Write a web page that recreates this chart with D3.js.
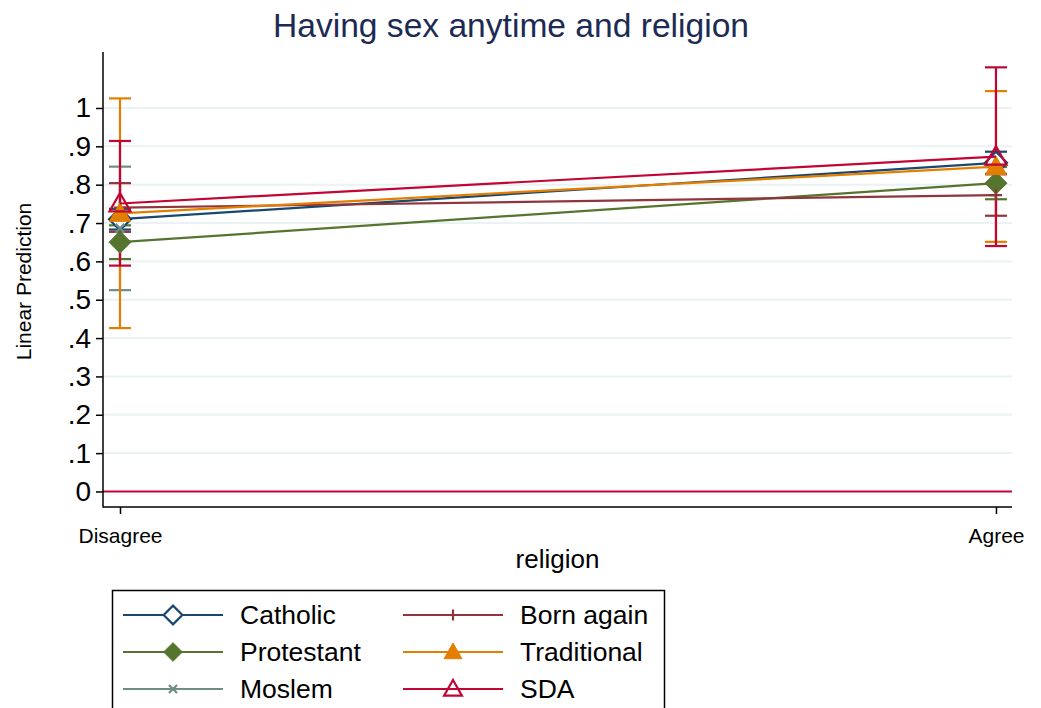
<!DOCTYPE html>
<html>
<head>
<meta charset="utf-8">
<script src="https://cdn.jsdelivr.net/npm/d3@7"></script>
<style>
  html, body { margin: 0; padding: 0; background: #ffffff; }
  svg { display: block; font-family: "Liberation Sans", Arial, Helvetica, sans-serif; }
</style>
</head>
<body>
<svg id="chart" width="1041" height="708"></svg>
<script>
// Margins-plot data: predicted values with 95% confidence limits
const categories = ["Disagree", "Agree"];
const seriesNames = ["Catholic", "Protestant", "Moslem", "Born again", "Traditional", "SDA"];
const seriesColors = ["#1a476f", "#55752f", "#6e8e84", "#90353b", "#e37e00", "#c10534"];
const seriesSymbols = ["diamondHollow", "diamond", "x", "plus", "triangle", "triangleHollow"];

const catholic    = [0.710, 0.857];
const protestant  = [0.650, 0.804];
const moslem      = [0.686, null];
const bornAgain   = [0.740, 0.773];
const traditional = [0.725, 0.847];
const sda         = [0.751, 0.873];

const catholicLo    = [0.683, 0.828];
const catholicHi    = [0.737, 0.886];
const protestantLo  = [0.606, 0.762];
const protestantHi  = [0.694, 0.846];
const moslemLo      = [0.525, null];
const moslemHi      = [0.847, null];
const bornAgainLo   = [0.677, 0.719];
const bornAgainHi   = [0.804, 0.827];
const traditionalLo = [0.426, 0.651];
const traditionalHi = [1.025, 1.044];
const sdaLo         = [0.589, 0.640];
const sdaHi         = [0.914, 1.106];

const yTickValues = [0, 0.1, 0.2, 0.3, 0.4, 0.5, 0.6, 0.7, 0.8, 0.9, 1];
const yTickLabels = ["0", ".1", ".2", ".3", ".4", ".5", ".6", ".7", ".8", ".9", "1"];

const titleText = "Having sex anytime and religion";
const yTitle = "Linear Prediction";
const xTitle = "religion";

const means = [catholic, protestant, moslem, bornAgain, traditional, sda];
const lows  = [catholicLo, protestantLo, moslemLo, bornAgainLo, traditionalLo, sdaLo];
const highs = [catholicHi, protestantHi, moslemHi, bornAgainHi, traditionalHi, sdaHi];

const series = seriesNames.map((name, i) => ({
  name, color: seriesColors[i], symbol: seriesSymbols[i],
  points: categories.map((c, j) => ({ j, v: means[i][j], lo: lows[i][j], hi: highs[i][j] }))
    .filter(p => p.v !== null)
}));

const svg = d3.select("#chart");
const plot = { left: 103, right: 1012, top: 52, bottom: 507 };

const x = d3.scaleLinear().domain([-0.0194, 1.0183]).range([plot.left, plot.right]);
const y = d3.scaleLinear().domain([-0.0405, 1.146]).range([plot.bottom, plot.top]);

// Title
svg.append("text")
  .attr("x", 511).attr("y", 37)
  .attr("text-anchor", "middle")
  .attr("font-size", 33)
  .attr("textLength", 476).attr("lengthAdjust", "spacingAndGlyphs")
  .attr("fill", "#1c2b54")
  .text(titleText);

// Horizontal grid
svg.append("g").selectAll("line").data(yTickValues.filter(v => v !== 0)).join("line")
  .attr("x1", plot.left).attr("x2", plot.right)
  .attr("y1", d => y(d)).attr("y2", d => y(d))
  .attr("stroke", "#eaf2f3").attr("stroke-width", 2);

// Reference line at zero
svg.append("line")
  .attr("x1", plot.left).attr("x2", plot.right)
  .attr("y1", y(0)).attr("y2", y(0))
  .attr("stroke", "#c10534").attr("stroke-width", 2);

// Y axis
const yAxis = svg.append("g")
  .attr("transform", `translate(${plot.left},0)`)
  .call(d3.axisLeft(y).tickValues(yTickValues)
    .tickFormat((d, i) => yTickLabels[i]).tickSize(7).tickPadding(5).tickSizeOuter(0));
yAxis.select(".domain").remove();
yAxis.append("line").attr("x1", 0).attr("x2", 0).attr("y1", plot.top).attr("y2", plot.bottom + 0.5)
  .attr("stroke", "#000").attr("stroke-width", 1.5);
yAxis.selectAll(".tick line").attr("stroke", "#000").attr("stroke-width", 1.5);
yAxis.selectAll(".tick text").attr("font-size", 28).attr("fill", "#000")
  .attr("font-family", "Liberation Sans, Arial, sans-serif");

// X axis
const xAxis = svg.append("g")
  .attr("transform", `translate(0,${plot.bottom})`)
  .call(d3.axisBottom(x).tickValues([0, 1])
    .tickFormat((d, i) => categories[i]).tickSize(7).tickPadding(14).tickSizeOuter(0));
xAxis.select(".domain").remove();
xAxis.append("line").attr("x1", plot.left).attr("x2", plot.right).attr("y1", 0).attr("y2", 0)
  .attr("stroke", "#000").attr("stroke-width", 1.5);
xAxis.selectAll(".tick line").attr("stroke", "#000").attr("stroke-width", 1.5);
xAxis.selectAll(".tick text").attr("font-size", 21).attr("fill", "#000")
  .attr("font-family", "Liberation Sans, Arial, sans-serif");

// Axis titles
svg.append("text")
  .attr("transform", `translate(31,${(plot.top + plot.bottom) / 2 + 2}) rotate(-90)`)
  .attr("text-anchor", "middle").attr("font-size", 21).attr("fill", "#000")
  .text(yTitle);
svg.append("text")
  .attr("x", (plot.left + plot.right) / 2).attr("y", 568)
  .attr("text-anchor", "middle").attr("font-size", 26).attr("fill", "#000")
  .text(xTitle);

// Marker glyph drawing
function drawMarker(g, symbol, color, cx, cy, scale) {
  const s = scale || 1;
  if (symbol === "diamond" || symbol === "diamondHollow") {
    const r = 11 * s;
    g.append("path")
      .attr("d", `M${cx},${cy - r}L${cx + r},${cy}L${cx},${cy + r}L${cx - r},${cy}Z`)
      .attr("fill", symbol === "diamond" ? color : "#fff")
      .attr("stroke", color).attr("stroke-width", symbol === "diamond" ? 1 : 2.2);
  } else if (symbol === "triangle" || symbol === "triangleHollow") {
    const r = 10.5 * s;
    g.append("path")
      .attr("d", `M${cx},${cy - r}L${cx + r},${cy + r * 0.75}L${cx - r},${cy + r * 0.75}Z`)
      .attr("fill", symbol === "triangle" ? color : "none")
      .attr("stroke", color).attr("stroke-width", symbol === "triangle" ? 1 : 2.2);
  } else if (symbol === "x") {
    const r = 4.5 * s;
    g.append("path")
      .attr("d", `M${cx - r},${cy - r}L${cx + r},${cy + r}M${cx - r},${cy + r}L${cx + r},${cy - r}`)
      .attr("stroke", color).attr("stroke-width", 2.2).attr("fill", "none");
  } else if (symbol === "plus") {
    const r = 6 * s;
    g.append("path")
      .attr("d", `M${cx - r},${cy}L${cx + r},${cy}M${cx},${cy - r}L${cx},${cy + r}`)
      .attr("stroke", color).attr("stroke-width", 2.2).attr("fill", "none");
  }
}

// Confidence interval caps
const capHalf = 11;
const ciLayer = svg.append("g");
series.forEach(s => {
  s.points.forEach(p => {
    const g = ciLayer.append("g").attr("stroke", s.color).attr("stroke-width", 2.2);
    g.append("line").attr("x1", x(p.j)).attr("x2", x(p.j)).attr("y1", y(p.lo)).attr("y2", y(p.hi));
    g.append("line").attr("x1", x(p.j) - capHalf).attr("x2", x(p.j) + capHalf).attr("y1", y(p.lo)).attr("y2", y(p.lo));
    g.append("line").attr("x1", x(p.j) - capHalf).attr("x2", x(p.j) + capHalf).attr("y1", y(p.hi)).attr("y2", y(p.hi));
  });
});

// Connected lines with markers
const line = d3.line().x(p => x(p.j)).y(p => y(p.v));
const lineLayer = svg.append("g");
series.forEach(s => {
  const g = lineLayer.append("g");
  g.append("path").datum(s.points).attr("d", line)
    .attr("fill", "none").attr("stroke", s.color).attr("stroke-width", 2.2);
  s.points.forEach(p => drawMarker(g, s.symbol, s.color, x(p.j), y(p.v)));
});

// Legend
const legend = svg.append("g");
legend.append("rect")
  .attr("x", 112.5).attr("y", 590.5).attr("width", 552).attr("height", 140)
  .attr("fill", "#fff").attr("stroke", "#000").attr("stroke-width", 1.5);
const legendRows = [615, 652, 689];
const legendCols = [123, 403];
series.forEach((s, i) => {
  const col = Math.floor(i / 3), row = i % 3;
  const lx = legendCols[col], ly = legendRows[row];
  const g = legend.append("g");
  g.append("line").attr("x1", lx).attr("x2", lx + 100).attr("y1", ly).attr("y2", ly)
    .attr("stroke", s.color).attr("stroke-width", 2.2);
  const mScale = s.symbol === "plus" || s.symbol === "x" ? 0.9 : 0.85;
  drawMarker(g, s.symbol, s.color, lx + 50, ly, mScale);
  g.append("text").attr("x", lx + 117).attr("y", ly + 9)
    .attr("font-size", 26.5).attr("fill", "#000").text(s.name);
});
</script>
</body>
</html>
